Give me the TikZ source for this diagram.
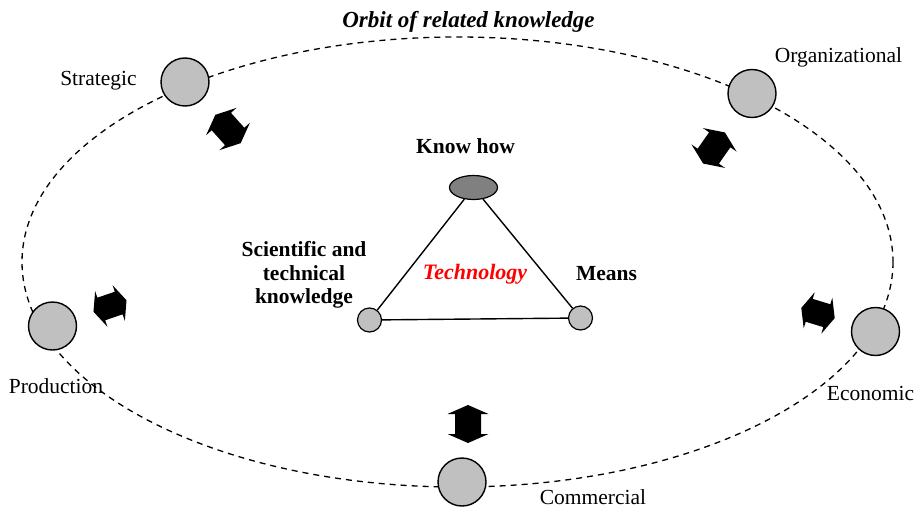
\documentclass[tikz,border=0pt]{standalone}
\usepackage{fontspec}
\setmainfont{Liberation Serif}
\usetikzlibrary{shapes.geometric}
\definecolor{circfill}{HTML}{C0C0C0}
\definecolor{khfill}{HTML}{808080}
\definecolor{techred}{HTML}{FF0000}
\begin{document}
\begin{tikzpicture}[x=1pt,y=-1pt,
  lbl/.style={inner sep=0pt, anchor=base, font=\fontsize{21.5}{23.5}\selectfont},
  blbl/.style={inner sep=0pt, anchor=base, font=\fontsize{21.5}{23.5}\selectfont\bfseries},
  bilbl/.style={inner sep=0pt, anchor=base, font=\fontsize{22}{23.5}\selectfont\bfseries\itshape},
  bigc/.style={circle, draw=black, line width=1.4pt, fill=circfill, minimum size=48pt, inner sep=0pt},
  smallc/.style={circle, draw=black, line width=1.2pt, fill=circfill, minimum size=24pt, inner sep=0pt},
  khnode/.style={ellipse, draw=black, line width=1.2pt, fill=khfill, minimum width=48pt, minimum height=24pt, inner sep=0pt},
  orbit/.style={draw=black, line width=1.3pt, dash pattern=on 6pt off 5pt},
  edge/.style={draw=black, line width=1.4pt},
  dblarr/.pic={\fill[black] (19,0) -- (10,20.5) -- (10,13) -- (-10,13) -- (-10,20.5) -- (-19,0) -- (-10,-20.5) -- (-10,-13) -- (10,-13) -- (10,-20.5) -- cycle;}
]
\useasboundingbox (0,0) rectangle (917,508);
% orbit
\draw[orbit] (457.5,262) ellipse [x radius=435.5, y radius=225];
% outer circles
\node[bigc] (strat) at (185,82) {};
\node[bigc] (org) at (752,93.5) {};
\node[bigc] (prod) at (52.5,326) {};
\node[bigc] (econ) at (875.5,331.5) {};
\node[bigc] (comm) at (462,482) {};
% labels
\node[lbl] (tstrat) at (98.5,86) {Strategic};
\node[lbl] (torg) at (838.5,63) {Organizational};
\node[lbl] (tprod) at (56,393) {Production};
\node[lbl] (tecon) at (870.5,400) {Economic};
\node[lbl] (tcomm) at (593,504) {Commercial};
\node[bilbl, font=\fontsize{23}{23.5}\selectfont\bfseries\itshape] (torbit) at (468.5,28) {Orbit of related knowledge};
% double arrows
\pic[rotate=-48] at (228,129) {dblarr};
\pic[rotate=55] at (714,148) {dblarr};
\pic[rotate=19, scale=0.92] at (110,306) {dblarr};
\pic[rotate=-17, scale=0.92] at (818,313) {dblarr};
\pic[rotate=90] at (468,424) {dblarr};
% triangle
\node[khnode] (kh) at (473.5,187.5) {};
\node[smallc] (sci) at (369.5,320) {};
\node[smallc] (mean) at (580.5,318) {};
\draw[edge] (kh) -- (sci);
\draw[edge] (kh) -- (mean);
\draw[edge] (sci) -- (mean);
\node[blbl] (tkh) at (465.5,153) {Know how};
\node[inner sep=0pt, anchor=center, align=center, font=\fontsize{21.5}{23.5}\selectfont\bfseries] (tsci) at (304,275) {Scientific and\\technical\\knowledge};
\node[blbl] (tmean) at (606.5,280) {Means};
\node[bilbl, text=techred] (ttech) at (475,279) {Technology};
\end{tikzpicture}
\end{document}
